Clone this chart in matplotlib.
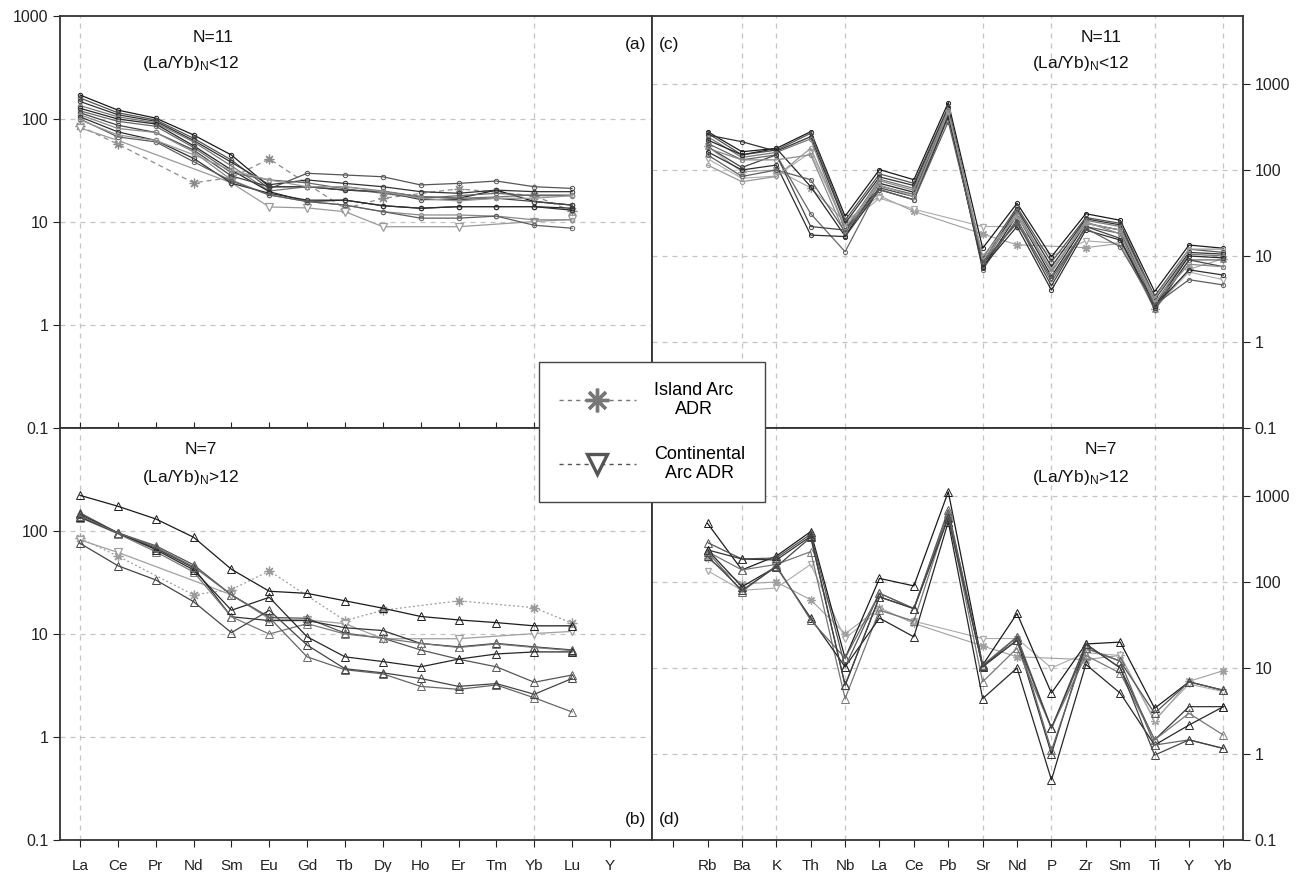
import numpy as np
import matplotlib
matplotlib.use("Agg")
import matplotlib.pyplot as plt
from matplotlib.lines import Line2D
from matplotlib.ticker import FixedLocator, FuncFormatter, NullLocator

plt.rcParams['font.family'] = ['Liberation Sans', 'DejaVu Sans']
plt.rcParams['mathtext.default'] = 'regular'

nan = np.nan

# ---------------- data ----------------
ree = ['La', 'Ce', 'Pr', 'Nd', 'Sm', 'Eu', 'Gd', 'Tb', 'Dy', 'Ho', 'Er', 'Tm', 'Yb', 'Lu', 'Y']
spider = ['Rb', 'Ba', 'K', 'Th', 'Nb', 'La', 'Ce', 'Pb', 'Sr', 'Nd', 'P', 'Zr', 'Sm', 'Ti', 'Y', 'Yb']

# (a) chondrite-normalised REE, (La/Yb)N < 12   (La ... Lu)
ree_low = [
    [171, 122, 102, 70, 44.7, 22, 22, 20.4, 19.7, 17.6, 17, 20.4, 15.8, 14.6],
    [160, 115, 98, 65, 40, 21, 29.7, 28.6, 27.5, 22.9, 23.7, 25, 22, 21.2],
    [148, 110, 95, 62, 38, 23, 25.6, 23.7, 22, 19.7, 19, 20.4, 19.7, 19.7],
    [135, 105, 92, 60, 35, 20, 22, 22, 20, 17.6, 17, 17.5, 18.3, 18.3],
    [127, 100, 89.5, 55, 32, 19.7, 15.8, 16.3, 14.4, 13.6, 14.1, 14.1, 14.1, 13.6],
    [120, 95, 85, 53, 30, 25.6, 24, 21, 19, 17, 18, 19, 18, 18],
    [115, 87, 74, 50, 28, 22, 22, 20.4, 19.7, 16.5, 16.5, 17, 15.8, 14.6],
    [110, 81, 74, 48, 25.6, 18.3, 15.8, 14.6, 12.6, 11.7, 11.7, 11.4, 10.5, 10.5],
    [105, 75, 62, 41.5, 23.8, 19, 16.3, 16.3, 14.4, 13.6, 14.1, 14.1, 14.1, 13],
    [100, 67, 60, 38.5, 25, 18.3, 15.8, 14.6, 12.6, 10.9, 10.9, 11.4, 9.3, 8.7],
    [98, 70, 62, 45, 31.8, 25.6, 22, 22, 19.7, 17, 16, 17, 17, 18],
]

# (b) chondrite-normalised REE, (La/Yb)N > 12
ree_high = [
    [222, 174, 131, 87, 42.5, 26, 24.8, 21, 17.8, 14.8, 13.7, 12.9, 12.0, 12.0],
    [150, 96, 72, 47, 24, 14.5, 14.2, 10.2, 9.1, 7.0, 5.7, 4.8, 3.4, 4.0],
    [145, 96, 68, 44, 14.7, 13.5, 13.5, 11.5, 10.8, 8.1, 7.5, 8.1, 7.5, 7.0],
    [135, 94, 63, 40, 14.7, 10, 12.6, 10.0, 9.1, 8.1, 7.4, 8.0, 7.4, 6.9],
    [137, 96, 66, 42, 17, 22.7, 9.4, 6.0, 5.4, 4.8, 5.7, 6.4, 6.7, 6.7],
    [140, 96, 70, 45, 24, 14.5, 6.0, 4.5, 4.1, 3.1, 2.9, 3.2, 2.4, 1.75],
    [76, 46, 33.5, 20.6, 10.3, 17, 7.8, 4.6, 4.2, 3.7, 3.1, 3.3, 2.6, 3.7],
]

ree_island = [85, 57, nan, 24, 27, 41, nan, 13.5, 17, nan, 21, nan, 18, 12.7]
ree_cont = [82, 62, nan, nan, 24, 14, 13.7, 12.6, 9.0, nan, 9.0, nan, 10.1, 10.6]

# (c) primitive-mantle-normalised, (La/Yb)N < 12   (Rb ... Yb)
sp_low = [
    [279, 163, 178, 279, 29, 101, 77, 607, 12.3, 41, 9.8, 31, 26, 3.85, 13.4, 12.3],
    [267, 150, 170, 267, 26, 90, 70, 546, 9.4, 37, 8.5, 28, 24, 3.4, 12, 11],
    [255, 213, 165, 244, 24, 83, 66, 520, 8.5, 35, 7.5, 27, 23, 3.1, 11, 10.5],
    [244, 140, 160, 230, 20, 78, 61, 500, 7.9, 33, 6.5, 26, 22, 2.8, 10.5, 10],
    [223, 150, 178, 64, 17, 70, 55, 477, 7.2, 30, 5.8, 24, 20, 2.6, 10, 9.5],
    [204, 131, 150, 31, 11.2, 65, 52, 460, 6.9, 27, 5, 22, 18.3, 2.35, 9, 9],
    [187, 107, 150, 22, 20, 62, 49, 440, 8, 25, 4.5, 22, 16, 2.5, 9, 7.5],
    [179, 131, 131, 150, 18, 75, 58, 500, 8.8, 30, 6.5, 25, 18, 2.9, 8, 7.5],
    [163, 100, 114, 17.5, 16.8, 59, 45, 417, 7.5, 22, 4.0, 20, 15.3, 2.6, 6.9, 6.0],
    [150, 84, 100, 77, 19, 59, 45, 365, 8.5, 24, 5.5, 21, 12.8, 2.7, 5.3, 4.6],
    [114, 73, 84, 179, 22, 67, 49, 470, 10, 29, 7, 24, 20, 3.2, 12, 12],
]

# (d) primitive-mantle-normalised, (La/Yb)N > 12
sp_high = [
    [480, 138, 200, 385, 13, 110, 90, 1120, 10.8, 43, 5.1, 19, 20, 3.4, 6.9, 5.5],
    [287, 185, 190, 360, 10.3, 74, 49, 690, 10.3, 23, 2.0, 17, 12, 2.97, 6.9, 5.5],
    [236, 185, 180, 340, 6.3, 67, 49, 575, 10.3, 21, 1.0, 19, 10, 1.46, 3.55, 3.55],
    [225, 138, 160, 225, 4.4, 47, 35, 600, 6.9, 17, 2.0, 14, 8.7, 1.46, 2.97, 1.66],
    [236, 88, 150, 38, 10.3, 38, 23, 500, 4.4, 10, 0.5, 11, 5.1, 1.27, 2.17, 3.55],
    [225, 77, 155, 36, 13, 74, 49, 640, 10.8, 23, 1.1, 17, 12, 1.27, 1.46, 1.16],
    [200, 80, 150, 330, 6.3, 67, 49, 550, 10.5, 21, 2.0, 19, 10, 0.97, 1.46, 1.16],
]

sp_island = [188, 95, 100, 62, 25, 50, 33, nan, 18, 13.5, nan, 12.5, 14, 2.4, 7, 9.3]
sp_cont = [135, 80, 85, 160, 22, 47, 35, nan, 22, 22, 10, 15, 14, 2.5, 6.5, 5.3]

grays = ['#1a1a1a', '#555555', '#333333', '#777777', '#262626', '#666666',
         '#444444', '#8a8a8a', '#2e2e2e', '#5e5e5e', '#999999']

# ---------------- figure ----------------
fig = plt.figure(figsize=(13.05, 8.72), dpi=100)
W, H = 1305, 872


def frac(x0, y0, x1, y1):
    return [x0 / W, 1 - y1 / H, (x1 - x0) / W, (y1 - y0) / H]


ax_a = fig.add_axes(frac(60, 16, 652, 428))
ax_b = fig.add_axes(frac(60, 428, 652, 840))
ax_c = fig.add_axes(frac(652, 16, 1243, 428))
ax_d = fig.add_axes(frac(652, 428, 1243, 840))

xr = np.arange(1, len(ree) + 1)
xs = np.arange(1, len(spider) + 1)


def plot_ref(ax, x, vals, marker, color, ls, ms, lw=0.9):
    v = np.array(vals, dtype=float)
    x = x[:len(v)]
    m = np.isfinite(v)
    ax.plot(x[m], v[m], ls=ls, color=color, lw=lw, marker=marker, ms=ms,
            mfc='white' if marker == 'v' else color, mec=color, mew=0.9, zorder=2)


def draw(ax, x, rows, marker, ms):
    for i, r in enumerate(rows):
        c = grays[i % len(grays)]
        ax.plot(x[:len(r)], r, color=c, lw=0.9, marker=marker, ms=ms,
                mfc='none', mec=c, mew=0.7, zorder=3)


ast = (8, 2, 0)

# REE panels
plot_ref(ax_a, xr, ree_island, ast, '#8c8c8c', (0, (4, 3)), 7)
plot_ref(ax_a, xr, ree_cont, 'v', '#9a9a9a', '-', 6)
draw(ax_a, xr, ree_low, 'o', 3.2)
plot_ref(ax_b, xr, ree_island, ast, '#9a9a9a', (0, (1.5, 2)), 7)
plot_ref(ax_b, xr, ree_cont, 'v', '#a0a0a0', '-', 6)
draw(ax_b, xr, ree_high, '^', 5.5)

# spider panels
plot_ref(ax_c, xs, sp_island, ast, '#a0a0a0', '-', 6, 0.8)
plot_ref(ax_c, xs, sp_cont, 'v', '#aaaaaa', '-', 5, 0.8)
draw(ax_c, xs, sp_low, 'o', 3)
plot_ref(ax_d, xs, sp_island, ast, '#a0a0a0', '-', 6, 0.8)
plot_ref(ax_d, xs, sp_cont, 'v', '#aaaaaa', '-', 5, 0.8)
draw(ax_d, xs, sp_high, '^', 5.5)

fmt = FuncFormatter(lambda v, p: f'{v:g}')
grid_kw = dict(color='#c4c4c4', lw=0.9, ls=(0, (4, 4)), zorder=0)

for ax in (ax_a, ax_b, ax_c, ax_d):
    ax.set_yscale('log')
    ax.yaxis.set_minor_locator(NullLocator())
    ax.yaxis.set_major_formatter(fmt)
    for s in ax.spines.values():
        s.set_color('#333333')
        s.set_linewidth(1.3)
    ax.tick_params(labelsize=11.5, colors='#222222', length=5, width=0.8)

for ax in (ax_a, ax_b):
    ax.set_xlim(0.472, 16.11)
    ax.set_ylim(0.1, 1000)
    for v in (1, 10, 100):
        ax.axhline(v, **grid_kw)
    for i in (1, 13):
        ax.axvline(i, **grid_kw)
    ax.set_xticks(xr)

for ax in (ax_c, ax_d):
    ax.set_xlim(-0.615, 16.57)
    ax.set_ylim(0.1, 10 ** 3.79)
    for v in (1, 10, 100, 1000):
        ax.axhline(v, **grid_kw)
    for i in (2, 3, 5, 9, 11, 14, 16):
        ax.axvline(i, **grid_kw)
    ax.set_xticks(np.arange(0, len(spider) + 1))
    ax.yaxis.tick_right()

ax_a.yaxis.set_major_locator(FixedLocator([0.1, 1, 10, 100, 1000]))
ax_b.yaxis.set_major_locator(FixedLocator([0.1, 1, 10, 100]))
ax_c.yaxis.set_major_locator(FixedLocator([0.1, 1, 10, 100, 1000]))
ax_d.yaxis.set_major_locator(FixedLocator([0.1, 1, 10, 100, 1000]))

ax_a.tick_params(axis='x', direction='in', labelbottom=False, length=4)
ax_c.tick_params(axis='x', labelbottom=False, length=0)
ax_b.set_xticklabels(ree)
ax_d.set_xticklabels([''] + spider)
for ax in (ax_b, ax_d):
    ax.tick_params(axis='x', pad=9, labelsize=11)

tk = dict(fontsize=12.5, color='#111111', zorder=6)
ax_a.text(0.258, 0.947, 'N=11', ha='center', va='center', transform=ax_a.transAxes, **tk)
ax_a.text(0.22, 0.885, '(La/Yb)$_N$<12', ha='center', va='center', transform=ax_a.transAxes, **tk)
ax_b.text(0.238, 0.947, 'N=7', ha='center', va='center', transform=ax_b.transAxes, **tk)
ax_b.text(0.22, 0.88, '(La/Yb)$_N$>12', ha='center', va='center', transform=ax_b.transAxes, **tk)
ax_c.text(0.76, 0.947, 'N=11', ha='center', va='center', transform=ax_c.transAxes, **tk)
ax_c.text(0.725, 0.885, '(La/Yb)$_N$<12', ha='center', va='center', transform=ax_c.transAxes, **tk)
ax_d.text(0.76, 0.947, 'N=7', ha='center', va='center', transform=ax_d.transAxes, **tk)
ax_d.text(0.725, 0.88, '(La/Yb)$_N$>12', ha='center', va='center', transform=ax_d.transAxes, **tk)

ax_a.text(0.99, 0.93, '(a)', ha='right', va='center', transform=ax_a.transAxes, **tk)
ax_b.text(0.99, 0.05, '(b)', ha='right', va='center', transform=ax_b.transAxes, **tk)
ax_c.text(0.012, 0.93, '(c)', ha='left', va='center', transform=ax_c.transAxes, **tk)
ax_d.text(0.012, 0.05, '(d)', ha='left', va='center', transform=ax_d.transAxes, **tk)

# legend
handles = [
    Line2D([], [], color='#777777', ls=(0, (3, 3)), lw=1.0, marker=ast, ms=17, mew=2.4,
           mec='#777777'),
    Line2D([], [], color='#555555', ls=(0, (3, 3)), lw=1.0, marker='v', ms=14, mew=2.4,
           mfc='white', mec='#555555'),
]
leg = fig.legend(handles, ['Island Arc\nADR', 'Continental\nArc ADR'],
                 loc='center', bbox_to_anchor=(652 / W, 1 - 432 / H),
                 fontsize=13, frameon=True, fancybox=False, framealpha=1,
                 edgecolor='#444444', handlelength=4.3, handletextpad=1.0,
                 borderpad=1.1, labelspacing=1.5, borderaxespad=0)
leg.get_frame().set_linewidth(1.0)
leg.set_zorder(10)
for t in leg.get_texts():
    t.set_multialignment('center')

fig.savefig('out.png', dpi=100)
